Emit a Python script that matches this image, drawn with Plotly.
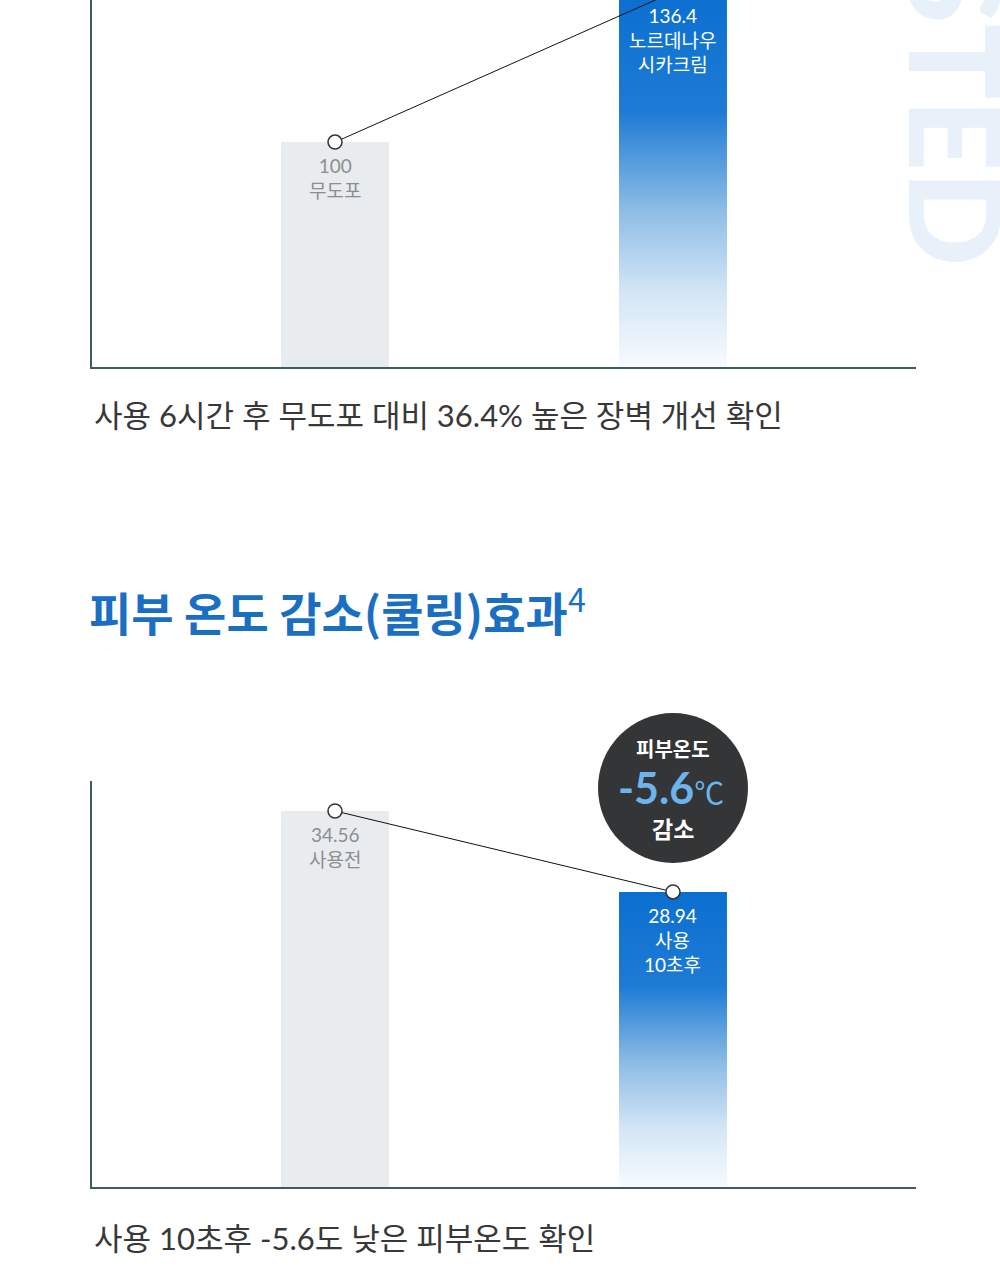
import plotly.graph_objects as go

# ---------------- data ----------------
top_categories = ["무도포", "노르데나우 시카크림"]
top_values = [100, 136.4]
top_labels = ["100<br>무도포", "136.4<br>노르데나우<br>시카크림"]

bot_categories = ["사용전", "사용 10초후"]
bot_values = [34.56, 28.94]
bot_labels = ["34.56<br>사용전", "28.94<br>사용<br>10초후"]

top_caption = "사용 6시간 후 무도포 대비 36.4% 높은 장벽 개선 확인"
bot_title = "피부 온도 감소(쿨링)효과<sup><span style='font-weight:400'>4</span></sup>"
bot_caption = "사용 10초후 -5.6도 낮은 피부온도 확인"
badge_lines = ["피부온도", "-5.6", "감소"]
watermark = "TESTED"

# ---------------- style ----------------
W, H = 1000, 1280
GRAY_BAR = "#e8ecee"
BLUE = "#0b6fd0"
AXIS = "#3f5a63"
LABEL_FONT = "Lato, Noto Sans CJK KR, sans-serif"
BAR_W = 0.3195
XR = [-0.719, 1.719]
TOP_YR = [45.4, 134.5]
BOT_YR = [8.45, 36.64]
GRAD = [[0, "#f7fbfe"], [0.2, "#d3e5f6"], [0.42, "#8dbce6"], [0.68, "#1e7bd5"], [1, BLUE]]


def py(px):
    return 1 - px / H


fig = go.Figure()


def add_chart(xa, ya, values, labels, yr):
    xs = list(range(len(values)))
    fig.add_trace(go.Bar(x=[xs[0]], y=[values[0]], width=BAR_W, marker=dict(color=GRAY_BAR, line=dict(width=0)),
                         xaxis=xa, yaxis=ya, showlegend=False, hoverinfo="skip"))
    fig.add_trace(go.Bar(x=[xs[1]], y=[values[1]], width=BAR_W,
                         marker=dict(color="rgba(11,111,208,0)", line=dict(width=0)),
                         xaxis=xa, yaxis=ya, showlegend=False, hoverinfo="skip"))
    x0, x1 = xs[1] - BAR_W / 2, xs[1] + BAR_W / 2
    lo, hi = yr[0], values[1]
    fig.add_trace(go.Scatter(x=[x0, x1, x1, x0, x0], y=[lo, lo, hi, hi, lo], mode="lines",
                             fill="toself", line=dict(width=0),
                             fillgradient=dict(type="vertical", start=lo, stop=hi, colorscale=GRAD),
                             xaxis=xa, yaxis=ya, showlegend=False, hoverinfo="skip"))
    fig.add_trace(go.Scatter(x=xs, y=values, mode="lines+markers",
                             line=dict(color="#111111", width=1),
                             marker=dict(size=14, color="white", line=dict(color="#333333", width=1.5)),
                             xaxis=xa, yaxis=ya, showlegend=False, hoverinfo="skip", cliponaxis=False))
    colors = ["#8a8f93", "white"]
    for i, (v, t) in enumerate(zip(values, labels)):
        # text sits at the arrow tail (the bar top); invisible arrow head kept inside the axis range
        fig.add_annotation(x=xs[i], y=min(v, yr[1]), xref=xa, yref=ya,
                           axref=xa, ayref=ya, ax=xs[i], ay=v,
                           showarrow=True, arrowcolor="rgba(0,0,0,0)", arrowwidth=0.1, arrowhead=0,
                           text=t, xanchor="center", yanchor="top", yshift=-10,
                           font=dict(family=LABEL_FONT, size=19, color=colors[i]), align="center")


add_chart("x", "y", top_values, top_labels, TOP_YR)
add_chart("x2", "y2", bot_values, bot_labels, BOT_YR)

axis_common = dict(showgrid=False, zeroline=False, showticklabels=False, ticks="",
                   showline=True, linecolor=AXIS, linewidth=1.5, fixedrange=True)

fig.update_layout(
    width=W, height=H, margin=dict(l=0, r=0, t=0, b=0),
    paper_bgcolor="white", plot_bgcolor="white", showlegend=False,
    barmode="overlay",
    xaxis=dict(domain=[0.092, 0.916], range=XR, anchor="y", **axis_common),
    yaxis=dict(domain=[py(367), 1.0], range=TOP_YR, anchor="x", **axis_common),
    xaxis2=dict(domain=[0.092, 0.916], range=XR, anchor="y2", **axis_common),
    yaxis2=dict(domain=[py(1187), py(781)], range=BOT_YR, anchor="x2", **axis_common),
)

# captions and title
fig.add_annotation(xref="paper", yref="paper", x=0.092, y=py(415), xanchor="left", yanchor="middle",
                   text=top_caption, showarrow=False,
                   font=dict(family=LABEL_FONT, size=31, color="#383838"))
fig.add_annotation(xref="paper", yref="paper", x=0.092, y=py(1238), xanchor="left", yanchor="middle",
                   text=bot_caption, showarrow=False,
                   font=dict(family=LABEL_FONT, size=31, color="#383838"))
fig.add_annotation(xref="paper", yref="paper", x=0.087, y=py(609), xanchor="left", yanchor="middle",
                   text=bot_title, showarrow=False,
                   font=dict(family="Noto Sans CJK KR, sans-serif", size=46, color="#1b6fc2", weight=700))

# badge circle
fig.add_shape(type="circle", xref="paper", yref="paper",
              x0=598 / W, x1=748 / W, y0=py(863), y1=py(713),
              fillcolor="#333536", line=dict(width=0), layer="above")
fig.add_annotation(xref="paper", yref="paper", x=673 / W, y=py(748), xanchor="center", yanchor="middle",
                   text=badge_lines[0], showarrow=False,
                   font=dict(family="Noto Sans CJK KR", size=20, color="white", weight=700))
fig.add_annotation(xref="paper", yref="paper", x=671 / W, y=py(787), xanchor="center", yanchor="middle",
                   text=badge_lines[1] + "<span style='font-size:30px;font-weight:400'>℃</span>", showarrow=False,
                   font=dict(family="Lato, Noto Sans CJK KR", size=43, color="#6cb4ec", weight=700))
fig.add_annotation(xref="paper", yref="paper", x=673 / W, y=py(828), xanchor="center", yanchor="middle",
                   text=badge_lines[2], showarrow=False,
                   font=dict(family="Noto Sans CJK KR", size=23, color="white", weight=700))

# watermark
fig.add_annotation(xref="paper", yref="paper", x=880 / W, y=py(268), xanchor="left", yanchor="bottom",
                   text=watermark, textangle=90, showarrow=False,
                   font=dict(family="Lato, sans-serif", size=125, color="#e8f0fa", weight=900))

fig.write_html("out.html")
